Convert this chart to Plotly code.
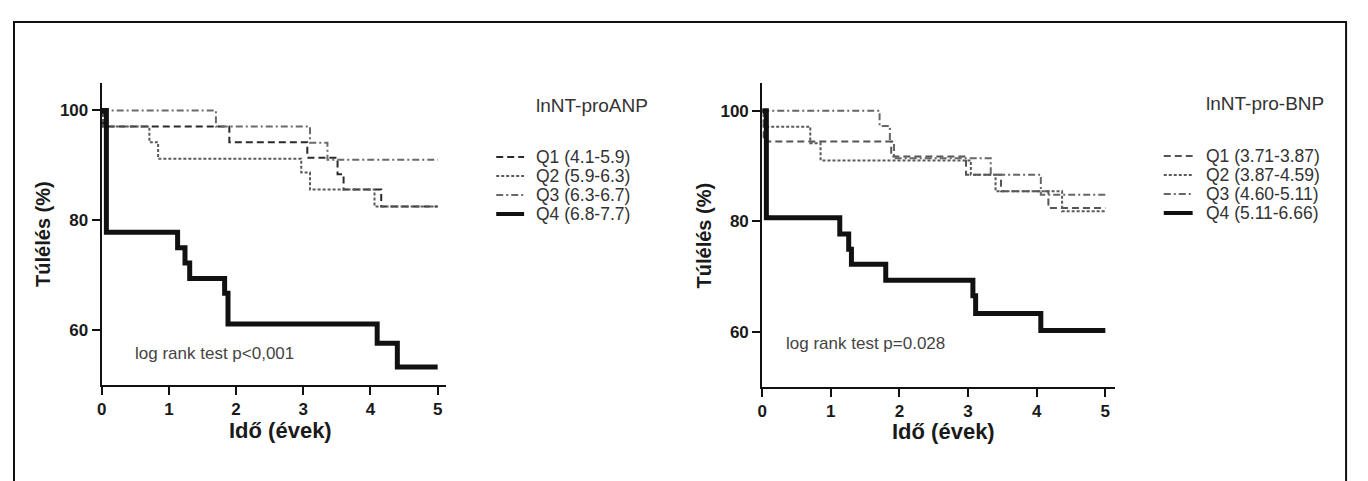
import plotly.graph_objects as go

# page body has an 8px margin in the browser, so the figure is drawn 8px smaller
OFF = 8
W, H = 1368 - OFF, 481 - OFF

# ---------------- data ----------------
# Left panel: lnNT-proANP quartiles
anp_title = "lnNT-proANP"
anp_labels = ["Q1 (4.1-5.9)", "Q2 (5.9-6.3)", "Q3 (6.3-6.7)", "Q4 (6.8-7.7)"]
anp_q1_t = [0, 0.02, 1.90, 3.06, 3.51, 3.60, 4.16, 5.0]
anp_q1_s = [100, 97.1, 94.2, 91.4, 88.4, 85.6, 82.5, 82.5]
anp_q2_t = [0, 0.02, 0.71, 0.84, 2.97, 3.10, 4.06, 5.0]
anp_q2_s = [100, 97.1, 94.2, 91.2, 88.7, 85.6, 82.5, 82.5]
anp_q3_t = [0, 1.70, 3.10, 3.36, 5.0]
anp_q3_s = [100, 97.1, 94.1, 91.0, 91.0]
anp_q4_t = [0, 0.07, 1.13, 1.24, 1.31, 1.83, 1.88, 4.10, 4.40, 5.0]
anp_q4_s = [100, 77.8, 75.0, 72.2, 69.4, 66.7, 61.1, 57.6, 53.3, 53.3]
anp_test = "log rank test p<0,001"

# Right panel: lnNT-pro-BNP quartiles
bnp_title = "lnNT-pro-BNP"
bnp_labels = ["Q1 (3.71-3.87)", "Q2 (3.87-4.59)", "Q3 (4.60-5.11)", "Q4 (5.11-6.66)"]
bnp_q1_t = [0, 0.02, 1.88, 2.97, 3.48, 4.17, 5.0]
bnp_q1_s = [100, 94.4, 91.7, 88.4, 85.4, 82.4, 82.4]
bnp_q2_t = [0, 0.02, 0.70, 0.85, 3.04, 3.40, 4.37, 5.0]
bnp_q2_s = [100, 97.1, 94.1, 91.0, 88.4, 85.4, 81.8, 81.8]
bnp_q3_t = [0, 1.71, 1.86, 1.92, 3.33, 4.06, 5.0]
bnp_q3_s = [100, 97.2, 94.4, 91.4, 88.4, 84.8, 84.8]
bnp_q4_t = [0, 0.06, 1.13, 1.26, 1.30, 1.80, 3.07, 3.11, 4.06, 5.0]
bnp_q4_s = [100, 80.6, 77.7, 74.9, 72.2, 69.3, 66.5, 63.3, 60.2, 60.2]
bnp_test = "log rank test p=0.028"

x_ticks = [0, 1, 2, 3, 4, 5]
y_ticks = [60, 80, 100]
x_title = "Idő (évek)"
y_title = "Túlélés (%)"

# ---------------- styles ----------------
FONT = "Liberation Sans, Arial, sans-serif"
styles = [
    dict(color="#2a2a2a", width=2, dash="7px,4px"),
    dict(color="#5a5a5a", width=2, dash="3px,2px"),
    dict(color="#6a6a6a", width=2, dash="7px,3px,2px,3px"),
    dict(color="#111111", width=5, dash="solid"),
]
styles_r = [
    dict(color="#555555", width=2, dash="7px,4px"),
    dict(color="#5a5a5a", width=2, dash="3px,2px"),
    dict(color="#666666", width=2, dash="7px,3px,2px,3px"),
    dict(color="#111111", width=5, dash="solid"),
]

fig = go.Figure()

left = [(anp_q1_t, anp_q1_s), (anp_q2_t, anp_q2_s), (anp_q3_t, anp_q3_s), (anp_q4_t, anp_q4_s)]
right = [(bnp_q1_t, bnp_q1_s), (bnp_q2_t, bnp_q2_s), (bnp_q3_t, bnp_q3_s), (bnp_q4_t, bnp_q4_s)]

for i, (t, s) in enumerate(left):
    fig.add_trace(go.Scatter(x=t, y=s, mode="lines", line=dict(shape="hv", **styles[i]),
                             name=anp_labels[i], xaxis="x", yaxis="y", showlegend=False))
for i, (t, s) in enumerate(right):
    fig.add_trace(go.Scatter(x=t, y=s, mode="lines", line=dict(shape="hv", **styles_r[i]),
                             name=bnp_labels[i], xaxis="x2", yaxis="y2", showlegend=False))

# positions below are given in page pixels, converted to paper coordinates
def px(p):
    return (p - OFF) / W

def py(p):
    return 1 - (p - OFF) / H

tickfont = dict(family=FONT, size=17, color="#1a1a1a", weight="bold")
ax_common = dict(showline=True, linecolor="#111111", linewidth=2, ticks="outside", ticklen=8,
                 tickwidth=2, tickcolor="#111111", showgrid=False, zeroline=False,
                 tickfont=tickfont, fixedrange=True)

fig.update_layout(
    width=W, height=H, margin=dict(l=0, r=0, t=0, b=0),
    paper_bgcolor="white", plot_bgcolor="white", showlegend=False,
    xaxis=dict(domain=[px(97), px(443)], range=[0, 5.13], tickvals=x_ticks, anchor="y", **ax_common),
    yaxis=dict(domain=[py(385), py(83)], range=[50, 105], tickvals=y_ticks, anchor="x", **ax_common),
    xaxis2=dict(domain=[px(760), px(1114)], range=[0, 5.14], tickvals=x_ticks, anchor="y2", **ax_common),
    yaxis2=dict(domain=[py(387), py(83)], range=[50, 105], tickvals=y_ticks, anchor="x2", **ax_common),
)

ann = []
ytitle_font = dict(family=FONT, size=20, color="#1a1a1a", weight="bold")
xtitle_font = dict(family=FONT, size=22, color="#1a1a1a", weight="bold")
for xc, yc in [(38, 234), (702, 235)]:
    ann.append(dict(text=y_title, x=px(xc), y=py(yc), xref="paper", yref="paper", showarrow=False,
                    textangle=-90, font=ytitle_font, xanchor="center", yanchor="middle"))
for xc, yc in [(276, 430), (942, 431)]:
    ann.append(dict(text=x_title, x=px(xc), y=py(yc), xref="paper", yref="paper", showarrow=False,
                    font=xtitle_font, xanchor="center", yanchor="middle"))
note_font = dict(family=FONT, size=17, color="#444444")
ann.append(dict(text=anp_test, x=px(128), y=py(353), xref="paper", yref="paper", showarrow=False,
                font=note_font, xanchor="left", yanchor="middle"))
ann.append(dict(text=bnp_test, x=px(782), y=py(343), xref="paper", yref="paper", showarrow=False,
                font=note_font, xanchor="left", yanchor="middle"))

# custom legends
leg_font = dict(family=FONT, size=17.5, color="#333333")
legt_font = dict(family=FONT, size=19, color="#333333")
shapes = []
legends = [
    (anp_title, anp_labels, styles, 531, 493, 521, 105, [157, 176, 195, 214]),
    (bnp_title, bnp_labels, styles_r, 1203, 1163, 1192, 103, [156, 175, 194, 213]),
]
for title, labels, sty, tx, lx0, lx1, ty, rows in legends:
    ann.append(dict(text=title, x=px(tx), y=py(ty), xref="paper", yref="paper", showarrow=False,
                    font=legt_font, xanchor="left", yanchor="middle"))
    for lab, st, ry in zip(labels, sty, rows):
        ann.append(dict(text=lab, x=px(tx), y=py(ry), xref="paper", yref="paper", showarrow=False,
                        font=leg_font, xanchor="left", yanchor="middle"))
        shapes.append(dict(type="line", xref="paper", yref="paper", x0=px(lx0), x1=px(lx1),
                           y0=py(ry), y1=py(ry),
                           line=dict(color=st["color"], width=min(st["width"], 4), dash=st["dash"])))

# outer frame
shapes.append(dict(type="rect", xref="paper", yref="paper", x0=px(9), x1=px(1346), y0=py(490), y1=py(22),
                   line=dict(color="#111111", width=2), fillcolor="rgba(0,0,0,0)", layer="below"))

fig.update_layout(annotations=ann, shapes=shapes)
fig.write_html("out.html")
